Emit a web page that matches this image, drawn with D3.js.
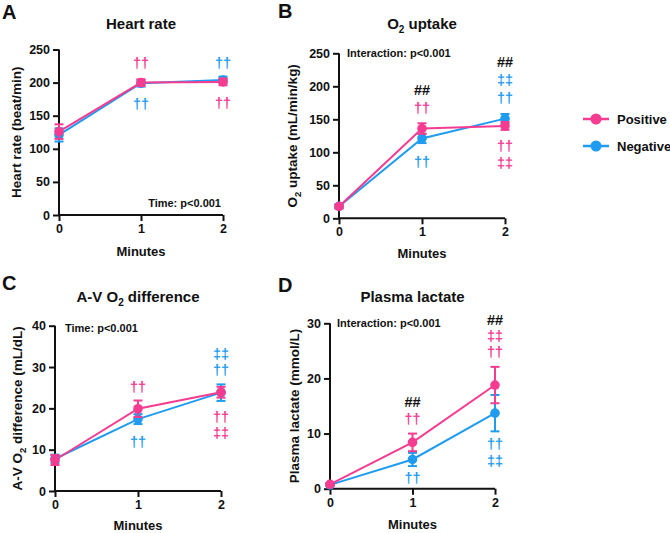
<!DOCTYPE html>
<html><head><meta charset="utf-8">
<script src="https://cdn.jsdelivr.net/npm/d3@7"></script>
<style>
body{margin:0;background:#fff;}
svg{display:block;font-family:"Liberation Sans",Arial,sans-serif;}
</style></head>
<body><svg id="c" width="670" height="533"></svg>
<script>
// ---------- DATA ----------
const minutes = [0, 1, 2];
const seriesNames = ["Positive", "Negative"];

const hrPos = [126, 200, 201];
const hrPosErr = [11, 5, 5];
const hrNeg = [121, 199, 204];
const hrNegErr = [10, 5, 5];

const o2Pos = [18, 136, 140];
const o2PosErr = [3, 8, 6];
const o2Neg = [18, 121, 151];
const o2NegErr = [3, 7, 7];

const avPos = [7.5, 19.9, 23.9];
const avPosErr = [1.2, 2.0, 1.3];
const avNeg = [7.8, 17.4, 23.8];
const avNegErr = [1.0, 1.2, 2.0];

const lacPos = [0.8, 8.4, 18.8];
const lacPosErr = [0.2, 1.6, 3.3];
const lacNeg = [0.7, 5.3, 13.7];
const lacNegErr = [0.2, 1.2, 3.3];

const hrTicks = [0, 50, 100, 150, 200, 250];
const o2Ticks = [0, 50, 100, 150, 200, 250];
const avTicks = [0, 10, 20, 30, 40];
const lacTicks = [0, 10, 20, 30];

// annotations: [minute, value level, text, group] group: p=positive, n=negative, k=black
const hrNotes = [[1, 230, "††", "p"], [1, 168, "††", "n"], [2, 230, "††", "n"], [2, 169, "††", "p"]];
const o2Notes = [[1, 194, "##", "k"], [1, 167, "††", "p"], [1, 85, "††", "n"],
  [2, 237, "##", "k"], [2, 209.5, "‡‡", "n"], [2, 182, "††", "n"], [2, 109.5, "††", "p"], [2, 84, "‡‡", "p"]];
const avNotes = [[1, 25.2, "††", "p"], [1, 11.9, "††", "n"],
  [2, 33.3, "‡‡", "n"], [2, 29.3, "††", "n"], [2, 18, "††", "p"], [2, 14, "‡‡", "p"]];
const lacNotes = [[1, 15.8, "##", "k"], [1, 12.6, "††", "p"], [1, 1.9, "††", "n"],
  [2, 30.7, "##", "k"], [2, 27.7, "‡‡", "p"], [2, 24.9, "††", "p"], [2, 8.2, "††", "n"], [2, 5.1, "‡‡", "n"]];

// ---------- STYLE ----------
const PINK = "#f53c91";
const BLUE = "#1f9cf0";
const colorOf = {p: PINK, n: BLUE, k: "#111"};

const svg = d3.select("#c");

function panel(o) {
  const g = svg.append("g");
  const x = d3.scaleLinear().domain([0, 2]).range([o.x0, o.x1]);
  const y = d3.scaleLinear().domain([0, o.ymax]).range([o.yb, o.yt]);

  // axes
  const ya = d3.axisLeft(y).tickValues(o.ticks).tickSize(6).tickPadding(3).tickFormat(d3.format("d"));
  const xa = d3.axisBottom(x).tickValues(minutes).tickSize(6).tickPadding(3).tickFormat(d3.format("d"));
  const gy = g.append("g").attr("transform", `translate(${o.x0},0)`).call(ya);
  const gx = g.append("g").attr("transform", `translate(0,${o.yb})`).call(xa);
  [gy, gx].forEach(a => {
    a.select(".domain").attr("stroke", "#111").attr("stroke-width", 2).attr("d",
      a === gy ? `M0,${o.yb + 1}V${o.yt}` : `M${o.x0},0H${o.x1}`);
    a.selectAll(".tick line").attr("stroke", "#111").attr("stroke-width", 2);
    a.selectAll(".tick text").attr("fill", "#111").attr("font-size", 12.5).attr("font-weight", "bold")
      .attr("font-family", "Liberation Sans, Arial, sans-serif");
  });

  // series (negative drawn first, positive on top)
  const series = [
    {v: o.neg, e: o.negErr, c: BLUE},
    {v: o.pos, e: o.posErr, c: PINK}
  ];
  const line = d3.line().x((d, i) => x(minutes[i])).y(d => y(d));
  series.forEach(s => {
    g.append("path").datum(s.v).attr("d", line).attr("fill", "none")
      .attr("stroke", s.c).attr("stroke-width", 2);
  });
  series.forEach(s => {
    const eg = g.append("g");
    s.v.forEach((v, i) => {
      const cx = x(minutes[i]);
      const hi = y(v + s.e[i]), lo = y(v - s.e[i]);
      eg.append("line").attr("x1", cx).attr("x2", cx).attr("y1", hi).attr("y2", lo)
        .attr("stroke", s.c).attr("stroke-width", 2);
      [hi, lo].forEach(yy => eg.append("line").attr("x1", cx - 4.5).attr("x2", cx + 4.5)
        .attr("y1", yy).attr("y2", yy).attr("stroke", s.c).attr("stroke-width", 2));
      eg.append("circle").attr("cx", cx).attr("cy", y(v)).attr("r", 4.8).attr("fill", s.c);
    });
  });

  // annotations
  o.notes.forEach(n => {
    g.append("text").attr("x", x(n[0])).attr("y", y(n[1])).attr("dy", "0.36em")
      .attr("text-anchor", "middle").attr("font-size", 14.5).attr("font-weight", "bold")
      .attr("fill", colorOf[n[3]]).text(n[2]);
  });

  // stats text
  g.append("text").attr("x", o.statX).attr("y", y(o.statY)).attr("dy", "0.35em")
    .attr("text-anchor", o.statAnchor).attr("font-size", 11).attr("font-weight", "bold")
    .attr("fill", "#111").text(o.stat);

  // title
  const t = g.append("text").attr("x", (o.x0 + o.x1) / 2).attr("y", o.titleY)
    .attr("text-anchor", "middle").attr("font-size", 15).attr("font-weight", "bold").attr("fill", "#111");
  o.title.forEach(p => t.append("tspan").attr("font-size", p[1] ? 10 : 15)
    .attr("dy", p[1] ? 4 : (p[2] ? -4 : 0)).text(p[0]));

  // y label
  const yl = g.append("text").attr("transform", `translate(${o.ylx},${(o.yt + o.yb) / 2}) rotate(-90)`)
    .attr("text-anchor", "middle").attr("font-size", 13.5).attr("font-weight", "bold").attr("fill", "#111");
  o.ylabel.forEach(p => yl.append("tspan").attr("font-size", p[1] ? 9.5 : 13.5)
    .attr("dy", p[1] ? 4 : (p[2] ? -4 : 0)).text(p[0]));

  // x label
  g.append("text").attr("x", (o.x0 + o.x1) / 2).attr("y", o.yb + o.xlOff)
    .attr("text-anchor", "middle").attr("font-size", 13).attr("font-weight", "bold")
    .attr("fill", "#111").text("Minutes");

  // panel letter
  g.append("text").attr("x", o.lx).attr("y", o.ly).attr("font-size", 20).attr("font-weight", "bold")
    .attr("fill", "#111").text(o.letter);
}

panel({letter: "A", lx: 2, ly: 19, x0: 59, x1: 223, yt: 49.5, yb: 215, ymax: 250, ticks: hrTicks,
  pos: hrPos, posErr: hrPosErr, neg: hrNeg, negErr: hrNegErr, notes: hrNotes,
  stat: "Time: p<0.001", statX: 221, statY: 18, statAnchor: "end",
  title: [["Heart rate"]], titleY: 29, ylx: 21, xlOff: 41,
  ylabel: [["Heart rate (beat/min)"]]});

panel({letter: "B", lx: 278, ly: 18, x0: 339, x1: 505, yt: 53.3, yb: 218.3, ymax: 250, ticks: o2Ticks,
  pos: o2Pos, posErr: o2PosErr, neg: o2Neg, negErr: o2NegErr, notes: o2Notes,
  stat: "Interaction: p<0.001", statX: 347, statY: 250, statAnchor: "start",
  title: [["O"], ["2", true], [" uptake", false, true]], titleY: 29, ylx: 297, xlOff: 40,
  ylabel: [["O"], ["2", true], [" uptake (mL/min/kg)", false, true]]});

panel({letter: "C", lx: 2, ly: 290, x0: 55, x1: 221, yt: 325.7, yb: 491, ymax: 40, ticks: avTicks,
  pos: avPos, posErr: avPosErr, neg: avNeg, negErr: avNegErr, notes: avNotes,
  stat: "Time: p<0.001", statX: 65, statY: 39.3, statAnchor: "start",
  title: [["A-V O"], ["2", true], [" difference", false, true]], titleY: 302, ylx: 22, xlOff: 38.5,
  ylabel: [["A-V O"], ["2", true], [" difference (mL/dL)", false, true]]});

panel({letter: "D", lx: 278, ly: 292, x0: 330, x1: 495, yt: 323.3, yb: 488.7, ymax: 30, ticks: lacTicks,
  pos: lacPos, posErr: lacPosErr, neg: lacNeg, negErr: lacNegErr, notes: lacNotes,
  stat: "Interaction: p<0.001", statX: 337, statY: 30, statAnchor: "start",
  title: [["Plasma lactate"]], titleY: 302, ylx: 299, xlOff: 40,
  ylabel: [["Plasma lactate (mmol/L)"]]});

// legend
const lg = svg.append("g");
seriesNames.forEach((name, i) => {
  const c = i === 0 ? PINK : BLUE;
  const yy = 119 + i * 27;
  lg.append("line").attr("x1", 583).attr("x2", 609).attr("y1", yy).attr("y2", yy)
    .attr("stroke", c).attr("stroke-width", 2.5);
  lg.append("circle").attr("cx", 596).attr("cy", yy).attr("r", 5.5).attr("fill", c);
  lg.append("text").attr("x", 617).attr("y", yy).attr("dy", "0.35em").attr("font-size", 13)
    .attr("font-weight", "bold").attr("fill", "#111").text(name);
});
</script></body></html>
